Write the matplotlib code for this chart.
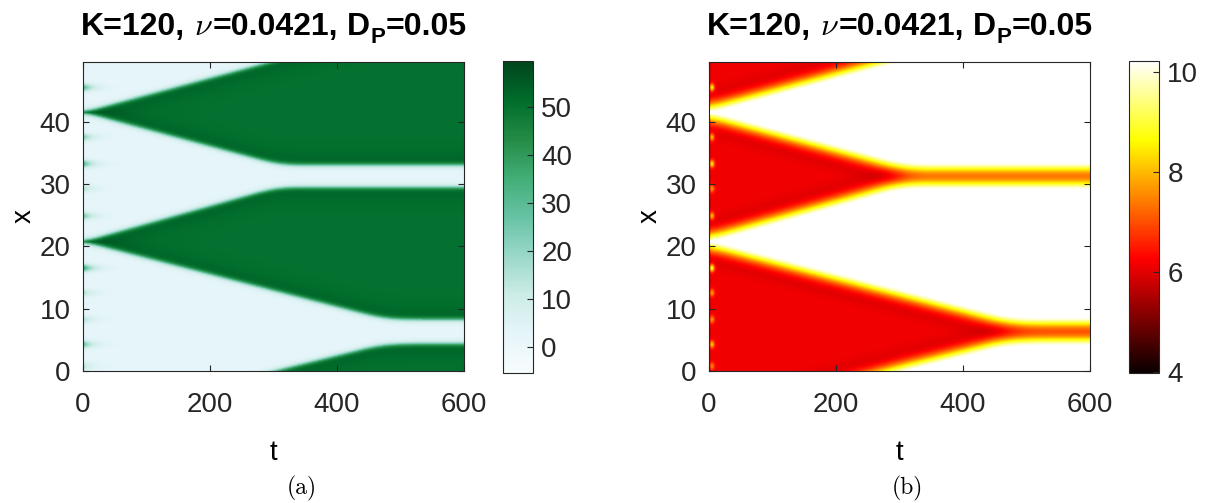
import numpy as np
import matplotlib
matplotlib.use('Agg')
import matplotlib.pyplot as plt

# front positions: (t, x) breakpoints for each band edge
A_lo_t = [0, 460, 485, 510, 600]
A_lo_x = [20.75, 8.7, 8.3, 8.2, 8.2]
A_hi_t = [0, 295, 320, 345, 600]
A_hi_x = [20.75, 29.2, 29.5, 29.5, 29.5]
B_lo_t = [0, 300, 325, 350, 600]
B_lo_x = [41.6, 33.4, 33.1, 33.1, 33.1]
B_hi_t = [0, 306, 465, 490, 515, 600]
B_hi_x = [41.6, 50.0, 54.0, 54.2, 54.3, 54.3]
period = 50.0

# early transient spots along t=0
spot_x = [45.6, 37.6, 33.3, 29.3, 24.9, 16.5, 12.5, 8.2, 4.2, 0.7]
spot_left = [30, 22, 30, 14, 24, 36, 14, 14, 26, 12]
spot_right = [2.6, 2.0, 2.4, 1.6, 2.0, 3.0, 1.6, 1.6, 2.0, 1.4]

t = np.linspace(0, 600, 601)
x = np.linspace(0, 49.6, 249)
T, X = np.meshgrid(t, x)


def edge(tp, xp):
    e = np.interp(t, tp, xp)
    k = 25
    pad = np.concatenate([np.full(k, e[0]), e, np.full(k, e[-1])])
    return np.convolve(pad, np.ones(2 * k + 1) / (2 * k + 1), mode='same')[k:-k]


def fields(shrink):
    s = np.full(X.shape, -np.inf)
    rim = np.zeros(X.shape)
    d_below = np.full(X.shape, np.inf)
    d_above = np.full(X.shape, np.inf)
    for lo, hi in bands:
        for sh in (-period, 0.0, period):
            lo2 = lo[None, :] + sh + shrink
            hi2 = hi[None, :] + sh - shrink
            sk = np.minimum(X - lo2, hi2 - X)
            s = np.maximum(s, sk)
            rk = np.where(sk > 0, np.exp(-(X - lo2) / 1.2) + np.exp(-(hi2 - X) / 1.2), 0)
            rim = np.maximum(rim, rk)
            db = X - hi2
            d_below = np.where((db >= 0) & (db < d_below), db, d_below)
            da = lo2 - X
            d_above = np.where((da >= 0) & (da < d_above), da, d_above)
    return s, rim, d_below, d_above


bands = [(edge(A_lo_t, A_lo_x), edge(A_hi_t, A_hi_x)),
         (edge(B_lo_t, B_lo_x), edge(B_hi_t, B_hi_x))]

# panel (a)
s, rim, _, _ = fields(0.0)
step = 0.5 * (1 + np.tanh(s / 0.5))
left = 2.5 + 47.5 * step + 7.5 * rim * step
for xs, a in zip(spot_x, spot_left):
    left += a * np.exp(-((X - xs) / 0.6) ** 2) * np.exp(-T / 14) * (1 - step)

# panel (b)
s, rim, d_below, d_above = fields(0.6)
g = lambda d: np.exp(-(d / 1.8) ** 2)
r = lambda d: np.exp(-((d - 3.4) / 1.3) ** 2)
gap = 6.15 + 4.3 * (g(d_below) + g(d_above)) - 0.2 * (r(d_below) + r(d_above))
right = np.where(s > 0, 10.45 + s, gap)
for xs, a in zip(spot_x, spot_right):
    right += a * np.exp(-((X - xs) / 0.6) ** 2) * np.exp(-((T - 4) / 4) ** 2)
right -= 1.0 * np.exp(-(T / 1.5) ** 2)

plt.rcParams['font.family'] = ['Liberation Sans', 'DejaVu Sans']
plt.rcParams['axes.edgecolor'] = '#262626'
plt.rcParams['xtick.color'] = '#262626'
plt.rcParams['ytick.color'] = '#262626'

fig = plt.figure(figsize=(12.08, 5.03), dpi=100)
W, H = 1208.0, 503.0
renderer = fig.canvas.get_renderer()

# title pieces: text, size, vertical shift (px), gap after (px)
title_parts = [('K=120,', 23, 0, 9), (r'$\nu$', 23, 0, 0), ('=0.0421,', 23, 0, 9),
               ('D', 23, 0, 0), ('P', 16, -8, 0), ('=0.05', 23, 0, 0)]


def draw_title(cx, base):
    objs = []
    for txt, fs, dy, gp in title_parts:
        o = fig.text(0, 0, txt, fontsize=fs, fontweight='bold', va='baseline',
                     math_fontfamily='cm')
        objs.append((o, dy, gp, o.get_window_extent(renderer).width))
    total = sum(w + gp for _, _, gp, w in objs)
    xpos = cx - total / 2
    for o, dy, gp, w in objs:
        o.set_position((xpos / W, (H - base + dy) / H))
        xpos += w + gp


panels = [(left, 'BuGn', (-5.2, 59.6), [0, 10, 20, 30, 40, 50], 83, 503, '(a)', 302),
          (right, 'hot', (3.98, 10.23), [4, 6, 8, 10], 709, 1129, '(b)', 907)]

for data, cmap, clim, cticks, x0, cx0, cap, capx in panels:
    ax = fig.add_axes([x0 / W, 1 - 371 / H, 381 / W, 309 / H])
    im = ax.imshow(data, origin='lower', aspect='auto', extent=[0, 600, 0, 49.6],
                   cmap=cmap, vmin=clim[0], vmax=clim[1], interpolation='bilinear')
    ax.set_xticks([0, 200, 400, 600])
    ax.set_yticks([0, 10, 20, 30, 40])
    ax.tick_params(axis='x', pad=15)
    ax.tick_params(axis='y', pad=9)
    ax.tick_params(direction='in', length=4, width=0.8, labelsize=20, top=True, right=True)
    ax.set_xlabel('t', fontsize=20, labelpad=16)
    ax.set_ylabel('x', fontsize=20, labelpad=2)
    draw_title(x0 + 190.5, 35)
    fig.text(capx / W, 1 - 488 / H, cap, ha='center', va='center', fontsize=17,
             family='cmr10')

    cax = fig.add_axes([cx0 / W, 1 - 372.5 / H, 30 / W, 312 / H])
    cb = fig.colorbar(im, cax=cax, ticks=cticks)
    cb.outline.set_edgecolor('#262626')
    cb.outline.set_linewidth(0.8)
    cax.tick_params(direction='in', length=4, width=0.8, labelsize=20, pad=6)

plt.savefig('out.png', dpi=100)
plt.close()
